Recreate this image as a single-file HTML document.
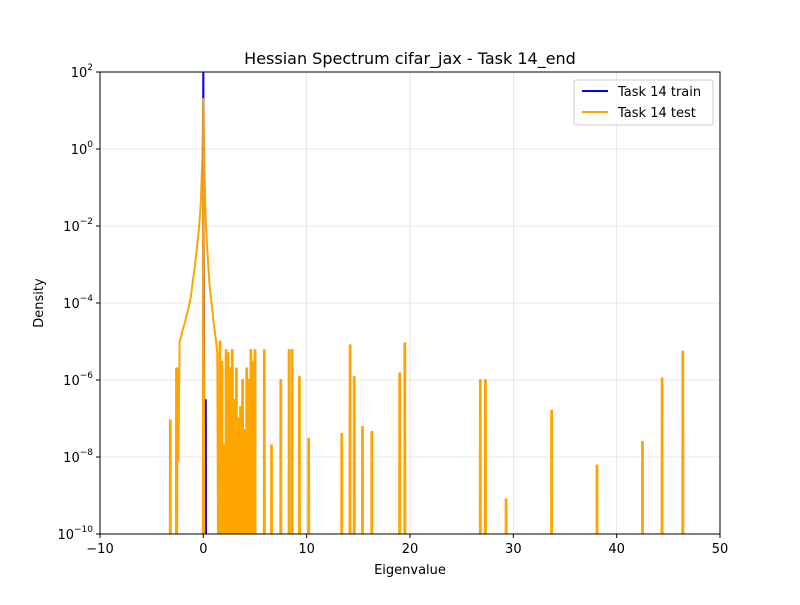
<!DOCTYPE html>
<html><head><meta charset="utf-8"><style>
body{margin:0;background:#fff;font-family:"Liberation Sans","DejaVu Sans",sans-serif}
svg text{font-family:"DejaVu Sans","Liberation Sans",sans-serif;fill:#000}
</style></head><body>
<svg id="chart" width="800" height="600" viewBox="0 0 800 600">
<rect width="800" height="600" fill="#fff"/>
<defs><clipPath id="clip"><rect x="100" y="72" width="620" height="462"/></clipPath></defs>
<g id="grid"></g>
<g id="series" clip-path="url(#clip)"></g>
<rect x="100" y="72" width="620" height="462" fill="none" stroke="#000" stroke-width="1"/>
<g id="axes"></g>
<text x="410" y="64" font-size="16" text-anchor="middle">Hessian Spectrum cifar_jax - Task 14_end</text>
<text x="410" y="574" font-size="13" text-anchor="middle">Eigenvalue</text>
<text x="43" y="303" font-size="13" text-anchor="middle" transform="rotate(-90 43 303)">Density</text>
<g>
<rect x="574" y="80" width="139" height="45" rx="2" fill="#fff" fill-opacity="0.8" stroke="#ccc"/>
<line x1="582" y1="91" x2="608" y2="91" stroke="#0000ff" stroke-width="2"/>
<text x="618" y="96" font-size="13">Task 14 train</text>
<line x1="582" y1="112" x2="608" y2="112" stroke="#ffa500" stroke-width="2"/>
<text x="618" y="117" font-size="13">Task 14 test</text>
</g>
</svg>
<script>
const xTicks=[-10,0,10,20,30,40,50];
const yTickExps=[-10,-8,-6,-4,-2,0,2];
const trainX=[-0.1,-0.02,0,0.03,0.06,0.1,0.15,0.2,0.24,0.27,0.3];
const trainY=[1e-12,1e-12,1e3,1e-2,1e-4,1e-12,1e-12,3e-7,3e-7,1e-12,1e-12];
// central envelope of test spectrum
const coreX=[-2.55,-2.5,-2.4,-2.3,-2.2,-2.0,-1.8,-1.6,-1.4,-1.2,-1.0,-0.8,-0.6,-0.4,-0.25,-0.1,0,0.1,0.25,0.4,0.6,0.8,1.0,1.2,1.35,1.45];
const coreY=[1e-12,2e-6,8e-9,1e-5,1.2e-5,2e-5,3e-5,5e-5,8e-5,1.5e-4,4e-4,1e-3,3e-3,1e-2,4e-2,0.5,20,0.3,1e-2,2e-3,3e-4,1e-4,3e-5,1.2e-5,5e-6,1e-12];
// isolated spikes in test spectrum
const spikeX=[-3.2,-2.6,1.6,1.8,2.0,2.2,2.4,2.6,2.8,3.0,3.2,3.4,3.6,3.8,4.0,4.2,4.4,4.6,4.8,5.0,5.9,6.6,7.5,8.3,8.6,9.3,10.2,13.4,14.2,14.6,15.4,16.3,19.0,19.5,26.8,27.3,29.3,33.7,38.1,42.5,44.4,46.4];
const spikeY=[9e-8,2e-6,1e-5,3e-6,2e-8,6e-6,5e-6,2e-6,6e-6,3e-7,2e-6,1e-7,2e-7,1e-6,5e-8,2e-6,1e-6,6e-6,3e-6,6e-6,6e-6,2e-8,1e-6,6e-6,6e-6,1.2e-6,3e-8,4e-8,8e-6,1.2e-6,6e-8,4.5e-8,1.5e-6,9e-6,1e-6,1e-6,8e-10,1.6e-7,6e-9,2.5e-8,1.1e-6,5.5e-6];
const NS='http://www.w3.org/2000/svg';
const X0=100,X1=720,Y0=534,Y1=72;
function sx(v){return X0+(v-(-10))/60*(X1-X0);}
function sy(v){const l=Math.log10(Math.max(v,1e-12));return Y0-(l-(-10))/12*(Y0-Y1);}
function mk(tag,attrs,parent){const e=document.createElementNS(NS,tag);for(const k in attrs)e.setAttribute(k,attrs[k]);parent.appendChild(e);return e;}
const grid=document.getElementById('grid'),axes=document.getElementById('axes'),series=document.getElementById('series');
xTicks.forEach(t=>{const x=sx(t);
 const g=mk('line',{x1:x,y1:Y1,x2:x,y2:Y0,stroke:'#b0b0b0','stroke-opacity':0.35,'stroke-width':0.8},grid);
 
 
 const tk=mk('line',{x1:x,y1:Y0,x2:x,y2:Y0+4,stroke:'#000'},axes);
 
 
 const tx=mk('text',{x:x,y:Y0+19,'font-size':13,'text-anchor':'middle'},axes);tx.textContent=(t<0?'\u2212'+(-t):t);
 
 
});
yTickExps.forEach(e=>{const y=sy(Math.pow(10,e));
 const g=mk('line',{x1:X0,y1:y,x2:X1,y2:y,stroke:'#b0b0b0','stroke-opacity':0.35,'stroke-width':0.8},grid);
 
 
 const tk=mk('line',{x1:X0-4,y1:y,x2:X0,y2:y,stroke:'#000'},axes);
 
 
 const tx=mk('text',{x:X0-7,y:y+5,'font-size':13,'text-anchor':'end'},axes);
 
 
 const b=mk('tspan',{},tx);b.textContent='10';
 const s=mk('tspan',{dy:-7,'font-size':9},tx);s.textContent=(e<0?'\u2212'+(-e):e);
});
function path(xs,ys,color,name){
 const d=xs.map((v,i)=>(i?'L':'M')+sx(v).toFixed(1)+','+sy(ys[i]).toFixed(1)).join('');
 const p=mk('path',{d:d,fill:'none',stroke:color,'stroke-width':2,'stroke-linejoin':'round'},series);
 
 
}
path(coreX,coreY,'#ffa500','test-core-line');
spikeX.forEach((x,i)=>{
 path([x-0.05,x-0.04,x+0.04,x+0.05],[1e-12,spikeY[i],spikeY[i],1e-12],'#ffa500','test-spike');
});
path(trainX,trainY,'#0000ff','train-line');
path([-0.05,0,0.1],[1e-12,20,1e-12],'#ffa500','test-peak-overlay');
</script>
</body></html>
